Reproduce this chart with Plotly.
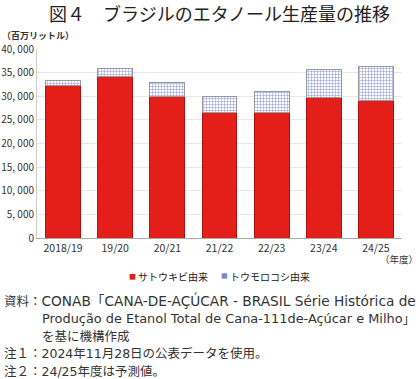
import plotly.graph_objects as go

categories = ["2018/19", "19/20", "20/21", "21/22", "22/23", "23/24", "24/25"]
sugarcane = [32300, 34100, 29900, 26500, 26600, 29700, 29000]
corn = [1000, 1700, 3000, 3500, 4500, 6000, 7300]
ytick_vals = [0, 5000, 10000, 15000, 20000, 25000, 30000, 35000, 40000]
ytick_text = ["0", "5, 000", "10, 000", "15, 000", "20, 000", "25, 000", "30, 000", "35, 000", "40, 000"]
series_names = ["サトウキビ由来", "トウモロコシ由来"]

FONT = "Noto Sans CJK JP"
NOTE_FONT = "DejaVu Sans, Noto Sans CJK JP"
RED = "#e41f1a"
BLUE = "#4f5ec0"

fig = go.Figure()
fig.add_trace(go.Bar(
    x=categories, y=sugarcane, name=series_names[0],
    marker=dict(color=RED, line=dict(color="#b51010", width=1)),
))
fig.add_trace(go.Bar(
    x=categories, y=corn, name=series_names[1],
    marker=dict(color="white", line=dict(color="#999999", width=1),
                pattern=dict(shape="+", fgcolor=BLUE, bgcolor="white", size=3, solidity=0.42)),
))

fig.update_layout(
    barmode="stack", bargap=0.33,
    width=420, height=379,
    margin=dict(l=37, r=18, t=49, b=141, autoexpand=False),
    paper_bgcolor="white", plot_bgcolor="white",
    font=dict(family=FONT, color="#333333", size=11),
    showlegend=False,
    xaxis=dict(showline=True, linecolor="#aaaaaa", ticks="", automargin=False,
               tickfont=dict(size=10.5, color="#333333")),
    yaxis=dict(range=[0, 40000], tickvals=ytick_vals, ticktext=ytick_text, automargin=False,
               showgrid=True, gridcolor="#e8e8e8", showline=True, linecolor="#cccccc",
               tickfont=dict(size=10, color="#333333"), zeroline=False),
)

fig.add_annotation(text="図４　ブラジルのエタノール生産量の推移", xref="paper", yref="paper",
                   x=0.5, y=1, xanchor="center", yanchor="middle", yshift=(49 - 13),
                   showarrow=False, font=dict(size=18, color="#222222", family=FONT))
fig.add_annotation(text="<b>（百万リットル）</b>", xref="paper", yref="paper",
                   x=0, y=1, xanchor="left", yanchor="middle", xshift=-37, yshift=49 - 35,
                   showarrow=False, font=dict(size=9, color="#333333", family=FONT))
fig.add_annotation(text="（年度）", xref="paper", yref="paper",
                   x=1, y=0, xanchor="right", yanchor="middle", xshift=18, yshift=-(259 - 238),
                   showarrow=False, font=dict(size=9.5, color="#333333", family=FONT))

# legend drawn as text
leg_y = 276
fig.add_annotation(text="■", xref="paper", yref="paper", x=0, y=0, xanchor="center", yanchor="middle",
                   xshift=132 - 37, yshift=-(leg_y - 238), showarrow=False,
                   font=dict(size=7, color=RED, family=FONT))
fig.add_annotation(text=series_names[0], xref="paper", yref="paper", x=0, y=0, xanchor="left",
                   yanchor="middle", xshift=136 - 37, yshift=-(leg_y - 238), showarrow=False,
                   font=dict(size=10, color="#222222", family=FONT))
fig.add_annotation(text="▦", xref="paper", yref="paper", x=0, y=0, xanchor="center", yanchor="middle",
                   xshift=224 - 37, yshift=-(leg_y - 238), showarrow=False,
                   font=dict(size=7, color=BLUE, family="DejaVu Sans"))
fig.add_annotation(text=series_names[1], xref="paper", yref="paper", x=0, y=0, xanchor="left",
                   yanchor="middle", xshift=228 - 37, yshift=-(leg_y - 238), showarrow=False,
                   font=dict(size=10, color="#222222", family=FONT))

notes = [
    (300, "資料：<span style='font-size:13.7px'>CONAB「CANA-DE-AÇÚCAR - BRASIL Série Histórica de</span>", 2),
    (318, "<span style='font-size:12.9px'>Produção de Etanol Total de Cana-111de-Açúcar e Milho」</span>", 40),
    (336, "を基に機構作成", 40),
    (353, "注１：2024年11月28日の公表データを使用。", 2),
    (371, "注２：24/25年度は予測値。", 2),
]
for ypix, txt, xpix in notes:
    fig.add_annotation(text=txt, xref="paper", yref="paper", x=0, y=0,
                       xanchor="left", yanchor="middle", xshift=-37 + xpix, yshift=-(ypix - 238),
                       showarrow=False, font=dict(size=12.5, color="#333333", family=NOTE_FONT))

fig.write_html("out.html", config={"displayModeBar": False},
               post_script="document.body.style.margin='0';")
